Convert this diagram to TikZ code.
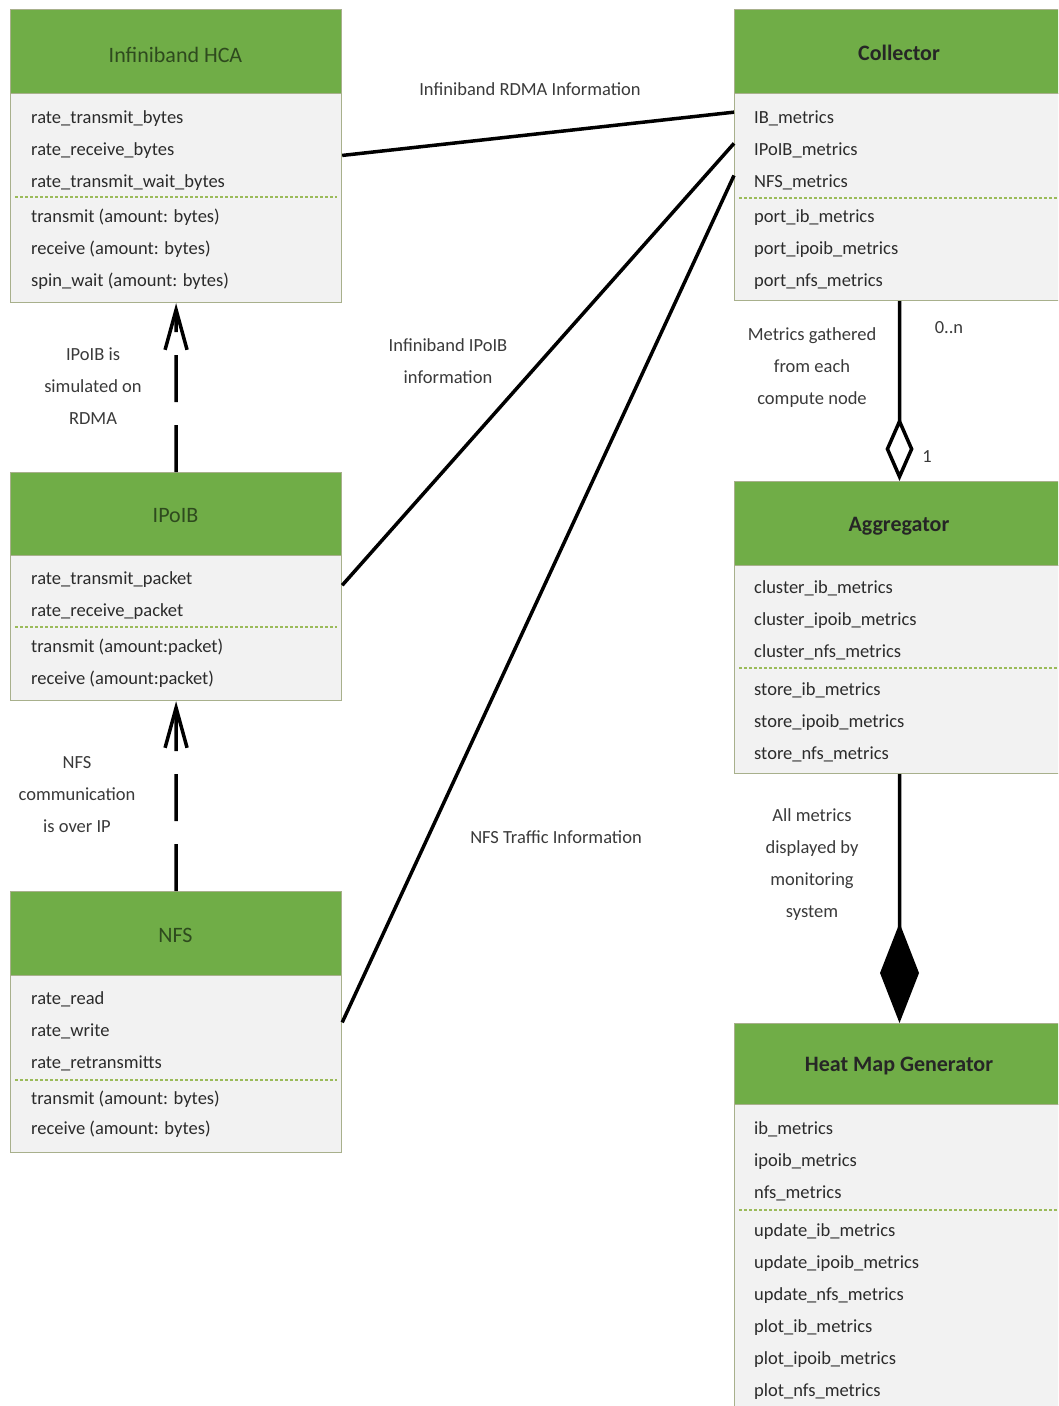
\documentclass[tikz,border=0pt]{standalone}
\usepackage{fontspec}
\setmainfont{Carlito}
\usetikzlibrary{calc,arrows.meta}
\definecolor{hdr}{HTML}{70AD47}
\definecolor{bodyc}{HTML}{F2F2F2}
\definecolor{brd}{HTML}{A8B08C}
\definecolor{sepc}{HTML}{9BBB59}
\definecolor{txt}{HTML}{2B2B2B}
\definecolor{ttl}{HTML}{2E4A1E}
\definecolor{lblc}{HTML}{3A3A3A}
\begin{document}
\begin{tikzpicture}[x=1pt,y=-1pt,
  hdrbox/.style={draw=brd,line width=1pt,fill=hdr,inner sep=0pt,anchor=north west},
  bodybox/.style={draw=brd,line width=1.2pt,fill=bodyc,inner sep=0pt,anchor=north west},
  ttlplain/.style={font=\fontsize{22}{24}\selectfont,text=ttl,inner sep=0pt,anchor=base},
  ttlbold/.style={font=\fontsize{22}{24}\selectfont\bfseries,text=black!85,inner sep=0pt,anchor=base},
  row/.style={anchor=base west,font=\fontsize{18.5}{20}\selectfont,text=txt,inner sep=0pt},
  sepline/.style={draw=sepc,line width=2pt,dash pattern=on 3pt off 2pt},
  lbl/.style={font=\fontsize{18.5}{32}\selectfont,text=lblc,align=center,inner sep=0pt},
  conn/.style={draw=black,line width=3.5pt},
  dep/.style={conn,dash pattern=on 47pt off 23pt,-{Straight Barb[length=40pt,width=22pt]}},
]
\clip (0,0) rectangle (1058,1406);
\fill[white] (0,0) rectangle (1058,1406);

% ---------- Infiniband HCA ----------
\node[hdrbox,minimum width=331pt,minimum height=84pt] (hcah) at (10,9) {};
\node[ttlplain] (hcat) at (175.5,62) {Infiniband HCA};
\node[bodybox,minimum width=331pt,minimum height=209pt] (hcab) at (10,93) {};
\foreach \t [count=\i] in {rate\_transmit\_bytes,rate\_receive\_bytes,rate\_transmit\_wait\_bytes}
  \node[row,name=hcaa\i] at (31,{123+32*(\i-1)}) {\t};
\draw[sepline] ($(hcab.north west)+(5,104)$) -- ($(hcab.north east)+(-5,104)$);
\foreach \t [count=\i] in {transmit (amount: bytes),receive (amount: bytes),spin\_wait (amount: bytes)}
  \node[row,name=hcao\i] at (31,{222+32*(\i-1)}) {\t};

% ---------- IPoIB ----------
\node[hdrbox,minimum width=331pt,minimum height=83pt] (ipoh) at (10,472) {};
\node[ttlplain] (ipot) at (175.5,522) {IPoIB};
\node[bodybox,minimum width=331pt,minimum height=145pt] (ipob) at (10,555) {};
\foreach \t [count=\i] in {rate\_transmit\_packet,rate\_receive\_packet}
  \node[row,name=ipoa\i] at (31,{584+32*(\i-1)}) {\t};
\draw[sepline] ($(ipob.north west)+(5,72)$) -- ($(ipob.north east)+(-5,72)$);
\foreach \t [count=\i] in {transmit (amount:packet),receive (amount:packet)}
  \node[row,name=ipoo\i] at (31,{652+32*(\i-1)}) {\t};

% ---------- NFS ----------
\node[hdrbox,minimum width=331pt,minimum height=84pt] (nfsh) at (10,891) {};
\node[ttlplain] (nfst) at (175.5,942) {NFS};
\node[bodybox,minimum width=331pt,minimum height=177pt] (nfsb) at (10,975) {};
\foreach \t [count=\i] in {rate\_read,rate\_write,rate\_retransmitts}
  \node[row,name=nfsa\i] at (31,{1004+32*(\i-1)}) {\t};
\draw[sepline] ($(nfsb.north west)+(5,105)$) -- ($(nfsb.north east)+(-5,105)$);
\foreach \t [count=\i] in {transmit (amount: bytes),receive (amount: bytes)}
  \node[row,name=nfso\i] at (31,{1104+30*(\i-1)}) {\t};

% ---------- Collector ----------
\node[hdrbox,minimum width=330pt,minimum height=84pt] (colh) at (734,9) {};
\node[ttlbold] (colt) at (899,60) {Collector};
\node[bodybox,minimum width=330pt,minimum height=207pt] (colb) at (734,93) {};
\foreach \t [count=\i] in {IB\_metrics,IPoIB\_metrics,NFS\_metrics}
  \node[row,name=cola\i] at (754,{123+32*(\i-1)}) {\t};
\draw[sepline] ($(colb.north west)+(5,105)$) -- ($(colb.north east)+(0,105)$);
\foreach \t [count=\i] in {port\_ib\_metrics,port\_ipoib\_metrics,port\_nfs\_metrics}
  \node[row,name=colo\i] at (754,{222+32*(\i-1)}) {\t};

% ---------- Aggregator ----------
\node[hdrbox,minimum width=330pt,minimum height=84pt] (aggh) at (734,481) {};
\node[ttlbold] (aggt) at (899,531) {Aggregator};
\node[bodybox,minimum width=330pt,minimum height=208pt] (aggb) at (734,565) {};
\foreach \t [count=\i] in {cluster\_ib\_metrics,cluster\_ipoib\_metrics,cluster\_nfs\_metrics}
  \node[row,name=agga\i] at (754,{593+32*(\i-1)}) {\t};
\draw[sepline] ($(aggb.north west)+(5,103)$) -- ($(aggb.north east)+(0,103)$);
\foreach \t [count=\i] in {store\_ib\_metrics,store\_ipoib\_metrics,store\_nfs\_metrics}
  \node[row,name=aggo\i] at (754,{695+32*(\i-1)}) {\t};

% ---------- Heat Map Generator ----------
\node[hdrbox,minimum width=330pt,minimum height=81pt] (heath) at (734,1023) {};
\node[ttlbold] (heatt) at (899,1071) {Heat Map Generator};
\node[bodybox,minimum width=330pt,minimum height=330pt] (heatb) at (734,1104) {};
\foreach \t [count=\i] in {ib\_metrics,ipoib\_metrics,nfs\_metrics}
  \node[row,name=heata\i] at (754,{1134+32*(\i-1)}) {\t};
\draw[sepline] ($(heatb.north west)+(5,106)$) -- ($(heatb.north east)+(0,106)$);
\foreach \t [count=\i] in {update\_ib\_metrics,update\_ipoib\_metrics,update\_nfs\_metrics,plot\_ib\_metrics,plot\_ipoib\_metrics,plot\_nfs\_metrics}
  \node[row,name=heato\i] at (754,{1236+32*(\i-1)}) {\t};

% ---------- Connectors ----------
\draw[conn] ($(hcab.north east)!0.297!(hcab.south east)$) -- ($(colb.north west)!0.092!(colb.south west)$);
\draw[conn] ($(ipob.north east)!0.207!(ipob.south east)$) -- ($(colb.north west)!0.242!(colb.south west)$);
\draw[conn] ($(nfsb.north east)!0.266!(nfsb.south east)$) -- ($(colb.north west)!0.396!(colb.south west)$);

\draw[dep] (ipoh.north) -- (hcab.south);
\draw[dep] (nfsh.north) -- (ipob.south);

\draw[conn,-{Diamond[open,length=64pt,width=28pt]}] (colb.south) -- (aggh.north);
\draw[conn,-{Diamond[length=100pt,width=39pt]}] (aggb.south) -- (heath.north);

% ---------- Labels ----------
\node[lbl] (l1) at (530,89) {Infiniband RDMA Information};
\node[lbl] (l2) at (448,361) {Infiniband IPoIB\\information};
\node[lbl] (l3) at (556,837) {NFS Traffic Information};
\node[lbl] (l4) at (93,386) {IPoIB is\\simulated on\\RDMA};
\node[lbl] (l5) at (77,795) {NFS\\communication\\is over IP};
\node[lbl] (l6) at (812,368) {Metrics gathered\\from each\\compute node};
\node[lbl] (l7) at (812,865) {All metrics\\displayed by\\monitoring\\system};
\node[lbl] (l8) at (949,328) {0..n};
\node[lbl] (l9) at (927,457) {1};
\end{tikzpicture}
\end{document}
